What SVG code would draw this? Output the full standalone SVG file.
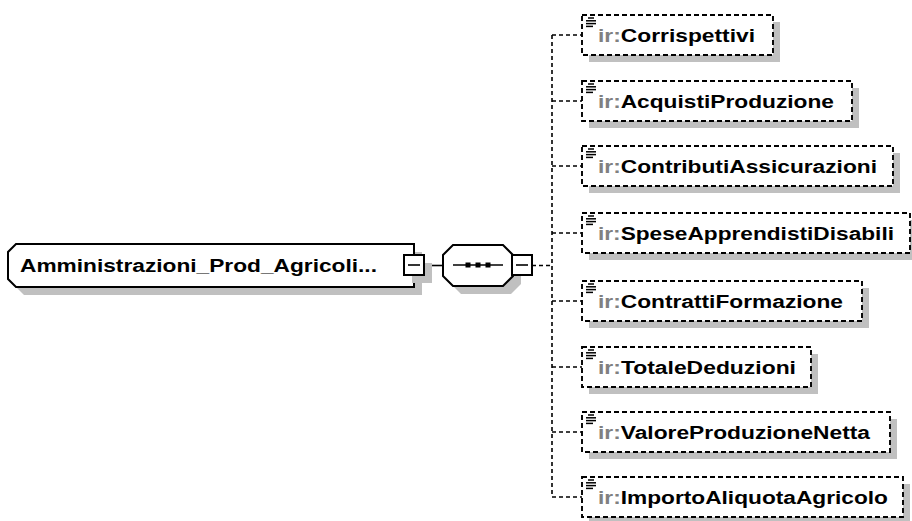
<svg xmlns="http://www.w3.org/2000/svg" width="912" height="521" viewBox="0 0 912 521">
<style>
.bg{fill:#ffffff}
.sh{fill:#c0c0c0;stroke:none}
.box{fill:#ffffff;stroke:#000000;stroke-width:2}
.opt{fill:#ffffff;stroke:#000000;stroke-width:1.9;stroke-dasharray:5,3}
.con{fill:none;stroke:#000000;stroke-width:1.6}
.dcon{fill:none;stroke:#000000;stroke-width:1.6;stroke-dasharray:4,3}
.ic{stroke:#000000;stroke-width:1.5}
.t{font-family:"Liberation Sans",Arial,sans-serif;font-weight:bold;font-size:18px;fill:#000000}
.pre{fill:#808080}
</style>
<defs>
<g id="icon">
<line class="ic" x1="588" y1="3" x2="594" y2="3"/>
<line class="ic" x1="586" y1="5.8" x2="596" y2="5.8"/>
<line class="ic" x1="586" y1="8.6" x2="596" y2="8.6"/>
<line class="ic" x1="586" y1="11.4" x2="593" y2="11.4"/>
</g>
</defs>
<rect class="bg" x="0" y="0" width="912" height="521"/>

<g id="connectors">
<line class="con" x1="424" y1="265.5" x2="443" y2="265.5"/>
<line class="dcon" x1="532" y1="265.5" x2="552" y2="265.5"/>
<line class="dcon" x1="552" y1="35" x2="552" y2="497"/>
<line class="dcon" x1="552" y1="35" x2="582" y2="35"/>
<line class="dcon" x1="552" y1="101" x2="582" y2="101"/>
<line class="dcon" x1="552" y1="166" x2="582" y2="166"/>
<line class="dcon" x1="552" y1="233" x2="582" y2="233"/>
<line class="dcon" x1="552" y1="301" x2="582" y2="301"/>
<line class="dcon" x1="552" y1="367" x2="582" y2="367"/>
<line class="dcon" x1="552" y1="432" x2="582" y2="432"/>
<line class="dcon" x1="552" y1="497" x2="582" y2="497"/>
</g>

<g id="root">
<polygon class="sh" points="24,252 422,252 422,295 24,295 16,287 16,260"/>
<polygon class="box" points="16,244 414,244 414,287 16,287 8,279 8,252"/>
<text class="t" x="20" y="272" font-size="19" textLength="357" lengthAdjust="spacingAndGlyphs">Amministrazioni_Prod_Agricoli...</text>
<rect class="sh" x="412" y="263" width="20" height="20"/>
<rect class="box" x="404" y="255" width="20" height="20"/>
<line class="con" x1="408" y1="265" x2="420" y2="265"/>
</g>

<g id="sequence">
<polygon class="sh" points="461,253 511,253 521,263 521,284 511,294 461,294 451,284 451,263"/>
<polygon class="box" points="453,245 503,245 513,255 513,276 503,286 453,286 443,276 443,255"/>
<line class="con" x1="453" y1="265" x2="503" y2="265"/>
<rect x="465.5" y="262.5" width="5" height="5" fill="#000"/>
<rect x="475.5" y="262.5" width="5" height="5" fill="#000"/>
<rect x="485.5" y="262.5" width="5" height="5" fill="#000"/>
<rect class="box" x="512" y="255" width="20" height="20"/>
<line class="con" x1="516" y1="265" x2="528" y2="265"/>
</g>

<g id="Corrispettivi">
<rect class="sh" x="589" y="22" width="191" height="40"/>
<rect class="opt" x="582" y="15" width="191" height="40"/>
<use href="#icon" y="15"/>
<text class="t" x="598" y="41.5" textLength="157" lengthAdjust="spacingAndGlyphs"><tspan class="pre">ir:</tspan>Corrispettivi</text>
</g>

<g id="AcquistiProduzione">
<rect class="sh" x="589" y="88" width="270" height="40"/>
<rect class="opt" x="582" y="81" width="270" height="40"/>
<use href="#icon" y="81"/>
<text class="t" x="598" y="107.5" textLength="236" lengthAdjust="spacingAndGlyphs"><tspan class="pre">ir:</tspan>AcquistiProduzione</text>
</g>

<g id="ContributiAssicurazioni">
<rect class="sh" x="589" y="153" width="311" height="40"/>
<rect class="opt" x="582" y="146" width="311" height="40"/>
<use href="#icon" y="146"/>
<text class="t" x="598" y="172.5" textLength="279" lengthAdjust="spacingAndGlyphs"><tspan class="pre">ir:</tspan>ContributiAssicurazioni</text>
</g>

<g id="SpeseApprendistiDisabili">
<rect class="sh" x="589" y="220" width="328" height="40"/>
<rect class="opt" x="582" y="213" width="328" height="40"/>
<use href="#icon" y="213"/>
<text class="t" x="598" y="239.5" textLength="296" lengthAdjust="spacingAndGlyphs"><tspan class="pre">ir:</tspan>SpeseApprendistiDisabili</text>
</g>

<g id="ContrattiFormazione">
<rect class="sh" x="589" y="288" width="280" height="40"/>
<rect class="opt" x="582" y="281" width="280" height="40"/>
<use href="#icon" y="281"/>
<text class="t" x="598" y="307.5" textLength="245" lengthAdjust="spacingAndGlyphs"><tspan class="pre">ir:</tspan>ContrattiFormazione</text>
</g>

<g id="TotaleDeduzioni">
<rect class="sh" x="589" y="354" width="229" height="40"/>
<rect class="opt" x="582" y="347" width="229" height="40"/>
<use href="#icon" y="347"/>
<text class="t" x="598" y="373.5" textLength="198" lengthAdjust="spacingAndGlyphs"><tspan class="pre">ir:</tspan>TotaleDeduzioni</text>
</g>

<g id="ValoreProduzioneNetta">
<rect class="sh" x="589" y="419" width="308" height="40"/>
<rect class="opt" x="582" y="412" width="308" height="40"/>
<use href="#icon" y="412"/>
<text class="t" x="598" y="438.5" textLength="272" lengthAdjust="spacingAndGlyphs"><tspan class="pre">ir:</tspan>ValoreProduzioneNetta</text>
</g>

<g id="ImportoAliquotaAgricolo">
<rect class="sh" x="589" y="484" width="321" height="40"/>
<rect class="opt" x="582" y="477" width="321" height="40"/>
<use href="#icon" y="477"/>
<text class="t" x="598" y="503.5" textLength="290" lengthAdjust="spacingAndGlyphs"><tspan class="pre">ir:</tspan>ImportoAliquotaAgricolo</text>
</g>
</svg>
